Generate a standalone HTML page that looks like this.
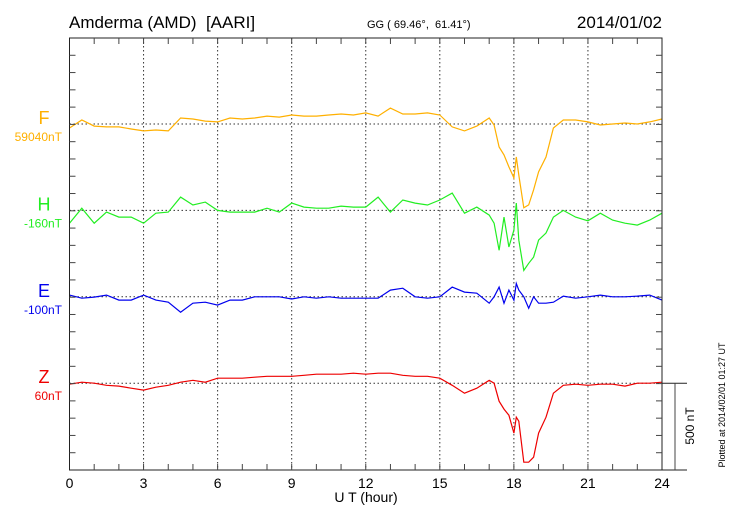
<!DOCTYPE html>
<html><head><meta charset="utf-8"><style>
body{margin:0;background:#fff;}
svg{display:block;font-family:"Liberation Sans",sans-serif;}
</style></head><body>
<svg id="chart" width="730" height="520" viewBox="0 0 730 520">
<text x="69" y="28" font-size="17">Amderma (AMD)&#160; [AARI]</text>
<text x="367" y="28" font-size="11">GG ( 69.46°,&#160; 61.41°)</text>
<text x="662" y="28" font-size="17" text-anchor="end">2014/01/02</text>
<text x="366" y="502" font-size="14" text-anchor="middle">U T (hour)</text>
<text transform="translate(694,426) rotate(-90)" font-size="12" text-anchor="middle">500 nT</text>
<text transform="translate(725,405) rotate(-90)" font-size="9" text-anchor="middle">Plotted at 2014/02/01 01:27 UT</text>
<g id="grid"></g><g id="series"></g><g id="axes"></g>
</svg>
<script>
const T=[0,0.5,1,1.5,2,2.5,3,3.5,4,4.5,5,5.5,6,6.5,7,7.5,8,8.5,9,9.5,10,10.5,11,11.5,12,12.5,13,13.5,14,14.5,15,15.5,16,16.5,17,17.2,17.4,17.6,17.8,18,18.1,18.2,18.4,18.6,18.8,19,19.3,19.6,20,20.5,21,21.5,22,22.5,23,23.5,24];
const F=[-23,23,-12,-17,-17,-29,-40,-35,-40,35,29,17,12,35,29,35,46,40,52,46,46,52,58,52,64,46,92,58,58,64,52,-17,-40,-12,35,-6,-133,-179,-248,-312,-191,-295,-485,-468,-381,-277,-191,-23,23,23,12,-6,0,6,0,12,29];
const H=[-74,13,-74,-10,-39,-39,-74,-16,-10,77,31,48,0,-10,-10,-10,13,-10,42,19,13,13,25,19,19,77,-10,60,42,31,60,100,-16,19,-27,-74,-231,-39,-212,-114,42,-172,-347,-306,-270,-172,-131,-39,0,-39,-60,-16,-56,-74,-85,-56,-16];
const E=[10,-8,-2,10,-19,-19,10,-19,-31,-89,-37,-31,-48,-19,-19,0,0,0,-13,0,-8,0,-8,-8,-8,-8,39,50,0,-8,0,56,27,21,-37,0,56,-37,39,-19,77,39,0,-66,0,-37,-37,-31,4,-8,0,10,0,0,4,10,-19];
const Z=[-6,6,0,-12,-17,-29,-40,-23,-12,6,17,6,29,29,29,35,40,40,40,46,52,52,52,58,52,58,58,46,40,40,29,-12,-58,-29,17,0,-104,-150,-185,-289,-197,-220,-457,-457,-428,-289,-197,-58,-12,-6,-12,-6,-6,-17,0,0,6];
const NAMES=["F","H","E","Z"];
const BASE_LABELS=["59040nT","-160nT","-100nT","60nT"];
const XTICKS=[0,3,6,9,12,15,18,21,24];
const SERIES=[F,H,E,Z];
const COLORS=["#ffb000","#22ee22","#0000ee","#ee0000"];
const L=69.5,R=662,TOP=38,BOT=470,BASES=[124,210.4,296.8,383.2],PX=17.28/100;
const x=h=>L+h*(R-L)/24;
const y=(i,v)=>BASES[i]-v*PX;
const NS="http://www.w3.org/2000/svg";
function mk(tag,attrs,parent){const e=document.createElementNS(NS,tag);for(const k in attrs)e.setAttribute(k,attrs[k]);document.getElementById(parent).appendChild(e);return e;}
for(const h of XTICKS.slice(1,-1)){const e=mk("line",{x1:x(h),x2:x(h),y1:TOP,y2:BOT,stroke:"#333","stroke-width":1,"stroke-dasharray":"1.5,2.5"},"grid");

}
BASES.forEach((b,i)=>{const e=mk("line",{x1:L,x2:R,y1:b,y2:b,stroke:"#333","stroke-width":1,"stroke-dasharray":"1.5,2.5"},"grid");

});
SERIES.forEach((s,i)=>{const d=s.map((v,j)=>(j?"L":"M")+x(T[j]).toFixed(1)+","+y(i,v).toFixed(1)).join("");
const p=mk("path",{d:d,fill:"none",stroke:COLORS[i],"stroke-width":1.2},"series");


const t=mk("text",{x:44,y:BASES[i],"font-size":18,fill:COLORS[i],"text-anchor":"middle"},"series");t.textContent=NAMES[i];


const b=mk("text",{x:62,y:BASES[i]+17,"font-size":12,fill:COLORS[i],"text-anchor":"end"},"series");b.textContent=BASE_LABELS[i];

});
const fr=mk("rect",{x:L,y:TOP,width:R-L,height:BOT-TOP,fill:"none",stroke:"#222","stroke-width":1},"axes");


for(let k=1;k<25;k++){const yy=TOP+k*17.28;
mk("line",{x1:L,x2:L+6,y1:yy,y2:yy,stroke:"#444"},"axes");
mk("line",{x1:R-6,x2:R,y1:yy,y2:yy,stroke:"#444"},"axes");}
for(let h=1;h<24;h++){mk("line",{x1:x(h),x2:x(h),y1:TOP,y2:TOP+6,stroke:"#444"},"axes");mk("line",{x1:x(h),x2:x(h),y1:BOT-6,y2:BOT,stroke:"#444"},"axes");}
for(const h of XTICKS){const t=mk("text",{x:x(h),y:488,"font-size":14,"text-anchor":"middle"},"axes");t.textContent=h;

}
mk("line",{x1:R,x2:687,y1:BOT,y2:BOT,stroke:"#222"},"axes");
mk("line",{x1:R,x2:687,y1:BASES[3],y2:BASES[3],stroke:"#222"},"axes");
const sb=mk("line",{x1:675,x2:675,y1:BASES[3],y2:BOT,stroke:"#444"},"axes");


</script>
</body></html>
